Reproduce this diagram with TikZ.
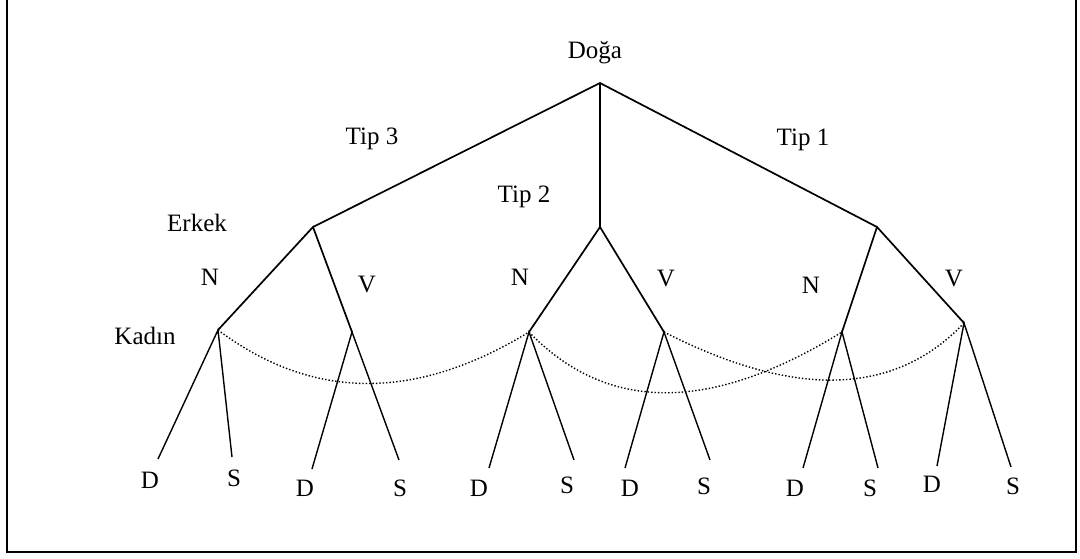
\documentclass[tikz,border=0pt]{standalone}
\usepackage{fontspec}
\setmainfont{Liberation Serif}
\begin{document}
\begin{tikzpicture}[x=0.5pt,y=-0.5pt,
  lbl/.style={font=\fontsize{12.5}{15}\selectfont, inner sep=0pt, anchor=base},
  branch/.style={line width=0.85pt, line join=miter},
  leafline/.style={line width=0.7pt},
  infoset/.style={line width=0.7pt, dash pattern=on 0.7pt off 1pt},
  frameline/.style={line width=0.8pt}]
\useasboundingbox (0,0) rectangle (1080,558);
% frame (open at top)
\coordinate (f1) at (7,0);
\coordinate (f2) at (7,552);
\coordinate (f3) at (1076,552);
\coordinate (f4) at (1076,0);
\draw[frameline] (f1) -- (f2) -- (f3) -- (f4);
% decision vertices
\coordinate (root) at (600,83);
\coordinate (T3) at (313,227);
\coordinate (T2) at (600,227);
\coordinate (T1) at (877,227);
\coordinate (LN) at (218,330);
\coordinate (LV) at (352,332);
\coordinate (MN) at (529,332);
\coordinate (MV) at (664,332);
\coordinate (RN) at (842,332);
\coordinate (RV) at (964,323);
% leaf ends
\coordinate (l1) at (158,459);
\coordinate (l2) at (232,457);
\coordinate (l3) at (312,469);
\coordinate (l4) at (399,460);
\coordinate (l5) at (489,468);
\coordinate (l6) at (574,460);
\coordinate (l7) at (625,468);
\coordinate (l8) at (710,460);
\coordinate (l9) at (803,468);
\coordinate (l10) at (878,468);
\coordinate (l11) at (937,466);
\coordinate (l12) at (1011,467);
% branches
\draw[branch] (T3) -- (root) -- (T1);
\draw[branch] (root) -- (T2);
\draw[branch] (LN) -- (T3) -- (LV);
\draw[branch] (MN) -- (T2) -- (MV);
\draw[branch] (RN) -- (T1) -- (RV);
% leaves
\draw[leafline] (l1) -- (LN) -- (l2);
\draw[leafline] (l3) -- (LV) -- (l4);
\draw[leafline] (l5) -- (MN) -- (l6);
\draw[leafline] (l7) -- (MV) -- (l8);
\draw[leafline] (l9) -- (RN) -- (l10);
\draw[leafline] (l11) -- (RV) -- (l12);
% information sets
\draw[infoset] (LN) .. controls +(95,71) and +(-113,69) .. (MN);
\draw[infoset] (MN) .. controls +(78,81) and +(-131,81) .. (RN);
\draw[infoset] (MV) .. controls +(131,67) and +(-69,73) .. (RV);
% labels
\node[lbl] (doga) at (595,58) {Doğa};
\node[lbl] (tip3) at (372,144) {Tip 3};
\node[lbl] (tip2) at (524,202) {Tip 2};
\node[lbl] (tip1) at (803,145) {Tip 1};
\node[lbl] (erkek) at (197,231) {Erkek};
\node[lbl] (kadin) at (145,344) {Kadın};
\node[lbl] (n1) at (210,285) {N};
\node[lbl] (v1) at (367,292) {V};
\node[lbl] (n2) at (520,285) {N};
\node[lbl] (v2) at (666,286) {V};
\node[lbl] (n3) at (811,293) {N};
\node[lbl] (v3) at (954,286) {V};
\node[lbl] (d1) at (150,488) {D};
\node[lbl] (s1) at (234,486) {S};
\node[lbl] (d2) at (305,496) {D};
\node[lbl] (s2) at (400,496) {S};
\node[lbl] (d3) at (479,496) {D};
\node[lbl] (s3) at (567,493) {S};
\node[lbl] (d4) at (630,496) {D};
\node[lbl] (s4) at (704,494) {S};
\node[lbl] (d5) at (795,496) {D};
\node[lbl] (s5) at (870,496) {S};
\node[lbl] (d6) at (932,492) {D};
\node[lbl] (s6) at (1013,494) {S};
\end{tikzpicture}
\end{document}
